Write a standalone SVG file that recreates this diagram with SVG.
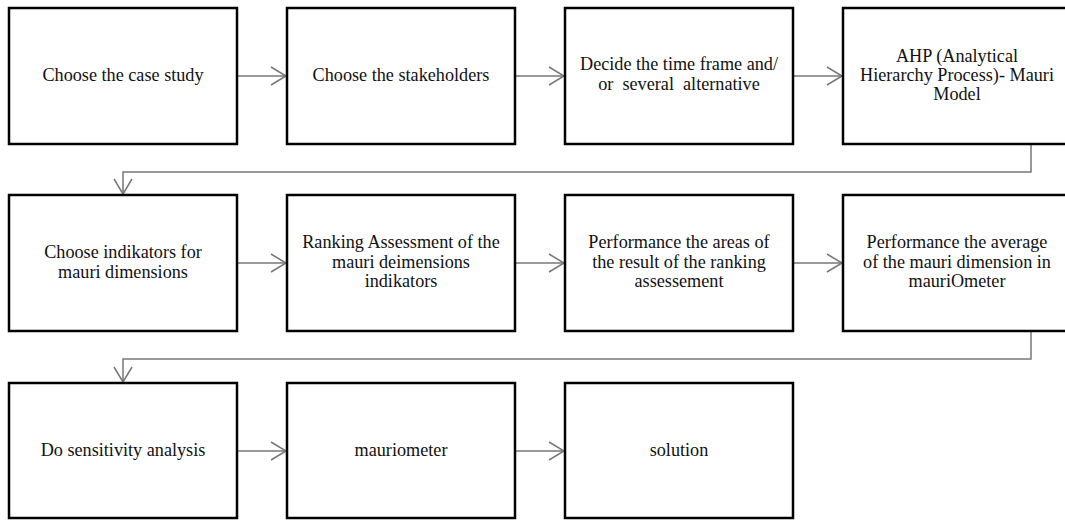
<svg xmlns="http://www.w3.org/2000/svg" width="1065" height="520" viewBox="0 0 1065 520">
<style>
.box{fill:#fff;stroke:#000;stroke-width:2.5}
.t{font-family:"Liberation Serif","Times New Roman",serif;font-size:18.2px;fill:#111;text-anchor:middle}
.c{fill:none;stroke:#777;stroke-width:1.5}
</style>
<defs>
<marker id="ah" markerWidth="18" markerHeight="20" refX="16" refY="10" orient="auto" markerUnits="userSpaceOnUse">
<path d="M1,1 L16,10 L1,19" fill="none" stroke="#777" stroke-width="1.5"/>
</marker>
</defs>
<rect width="1065" height="520" fill="#fff"/>
<g id="connectors">
<line class="c" x1="237" y1="76" x2="286" y2="76" marker-end="url(#ah)"/>
<line class="c" x1="515" y1="76" x2="564" y2="76" marker-end="url(#ah)"/>
<line class="c" x1="793" y1="76" x2="842" y2="76" marker-end="url(#ah)"/>
<path class="c" d="M1031,144 V172 H123 V194" marker-end="url(#ah)"/>
<line class="c" x1="237" y1="263" x2="286" y2="263" marker-end="url(#ah)"/>
<line class="c" x1="515" y1="263" x2="564" y2="263" marker-end="url(#ah)"/>
<line class="c" x1="793" y1="263" x2="842" y2="263" marker-end="url(#ah)"/>
<path class="c" d="M1031,331 V359 H123 V382" marker-end="url(#ah)"/>
<line class="c" x1="237" y1="451" x2="286" y2="451" marker-end="url(#ah)"/>
<line class="c" x1="515" y1="451" x2="564" y2="451" marker-end="url(#ah)"/>
</g>
<g id="n1"><rect class="box" x="9" y="8" width="228" height="136"/><text class="t" x="123" y="81">Choose the case study</text></g>
<g id="n2"><rect class="box" x="287" y="8" width="228" height="136"/><text class="t" x="401" y="81">Choose the stakeholders</text></g>
<g id="n3"><rect class="box" x="565" y="8" width="228" height="136"/><text class="t" x="679" y="70">Decide the time frame and/</text><text class="t" x="679" y="89.5" xml:space="preserve">or  several  alternative</text></g>
<g id="n4"><rect class="box" x="843" y="8" width="228" height="136"/><text class="t" x="957" y="62">AHP (Analytical</text><text class="t" x="957" y="81">Hierarchy Process)- Mauri</text><text class="t" x="957" y="100">Model</text></g>
<g id="n5"><rect class="box" x="9" y="195" width="228" height="136"/><text class="t" x="123" y="258">Choose indikators for</text><text class="t" x="123" y="277.5">mauri dimensions</text></g>
<g id="n6"><rect class="box" x="287" y="195" width="228" height="136"/><text class="t" x="401" y="248">Ranking Assessment of the</text><text class="t" x="401" y="267.5">mauri deimensions</text><text class="t" x="401" y="287">indikators</text></g>
<g id="n7"><rect class="box" x="565" y="195" width="228" height="136"/><text class="t" x="679" y="248">Performance the areas of</text><text class="t" x="679" y="267.5">the result of the ranking</text><text class="t" x="679" y="287">assessement</text></g>
<g id="n8"><rect class="box" x="843" y="195" width="228" height="136"/><text class="t" x="957" y="248">Performance the average</text><text class="t" x="957" y="267.5">of the mauri dimension in</text><text class="t" x="957" y="287">mauriOmeter</text></g>
<g id="n9"><rect class="box" x="9" y="383" width="228" height="135"/><text class="t" x="123" y="456">Do sensitivity analysis</text></g>
<g id="n10"><rect class="box" x="287" y="383" width="228" height="135"/><text class="t" x="401" y="456">mauriometer</text></g>
<g id="n11"><rect class="box" x="565" y="383" width="228" height="135"/><text class="t" x="679" y="456">solution</text></g>
</svg>
